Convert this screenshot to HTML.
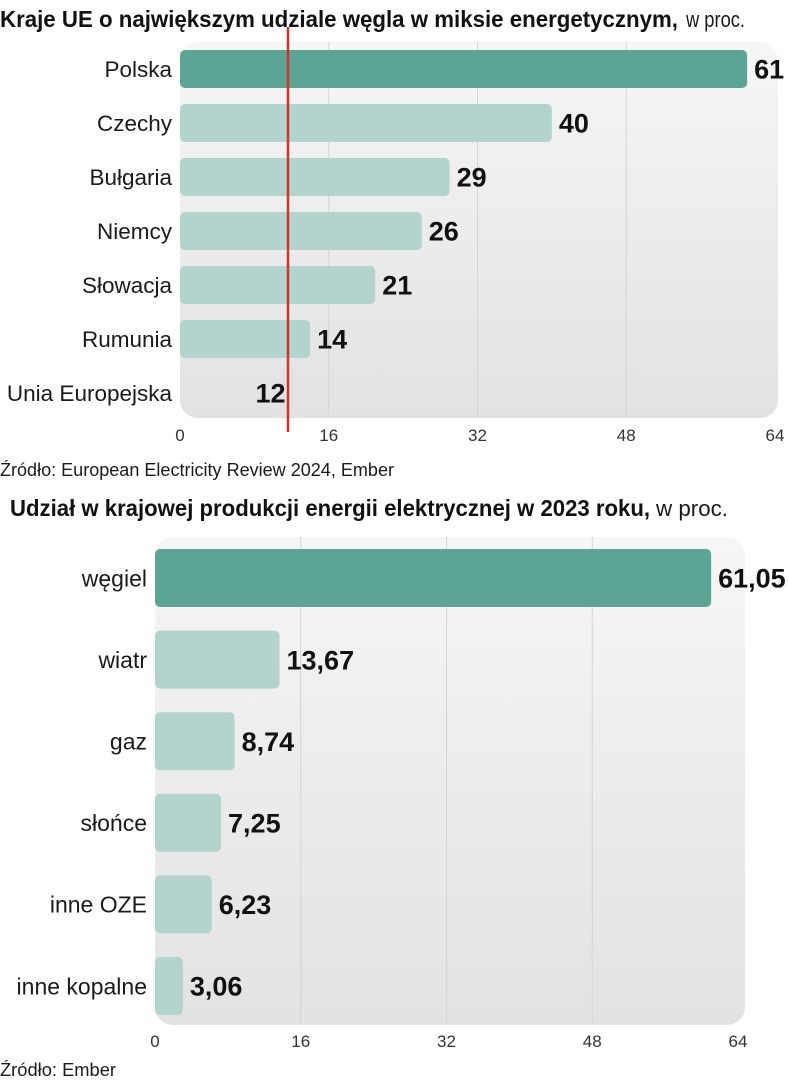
<!DOCTYPE html>
<html><head><meta charset="utf-8">
<style>
body{margin:0;background:#fff;width:789px;height:1080px;overflow:hidden}
svg{display:block}
.t{font-family:"Liberation Sans Narrow","Liberation Sans",sans-serif;font-weight:bold;fill:#111}
.l{font-family:"Liberation Sans",sans-serif;fill:#1a1a1a}
.v{font-family:"Liberation Sans Narrow","Liberation Sans",sans-serif;font-weight:bold;fill:#111}
.a{font-family:"Liberation Sans",sans-serif;fill:#333;font-size:17px}
</style></head>
<body>
<svg id="c" width="789" height="1080">
<defs>
<linearGradient id="g" x1="0" y1="0" x2="0" y2="1"><stop offset="0" stop-color="#f6f6f6"/><stop offset="1" stop-color="#e2e2e2"/></linearGradient>
</defs>
<text x="0" y="27" font-size="23" class="t" textLength="678" lengthAdjust="spacingAndGlyphs">Kraje UE o największym udziale węgla w miksie energetycznym,</text>
<text x="686" y="27" font-size="22" class="l" fill="#333" textLength="59" lengthAdjust="spacingAndGlyphs">w proc.</text>
<text x="0" y="476" font-size="18" class="l" textLength="394" lengthAdjust="spacingAndGlyphs">Źródło: European Electricity Review 2024, Ember</text>
<text x="10" y="516" font-size="23" class="t" textLength="640" lengthAdjust="spacingAndGlyphs">Udział w krajowej produkcji energii elektrycznej w 2023 roku,</text>
<text x="656" y="516" font-size="22" class="l" textLength="72" lengthAdjust="spacingAndGlyphs">w proc.</text>
<text x="0" y="1076" font-size="18" class="l" textLength="116" lengthAdjust="spacingAndGlyphs">Źródło: Ember</text>
</svg>
<script>
const topCats=["Polska","Czechy","Bułgaria","Niemcy","Słowacja","Rumunia","Unia Europejska"];
const topVals=[61,40,29,26,21,14,12];
const topLabels=["61","40","29","26","21","14","12"];
const botCats=["węgiel","wiatr","gaz","słońce","inne OZE","inne kopalne"];
const botVals=[61.05,13.67,8.74,7.25,6.23,3.06];
const botLabels=["61,05","13,67","8,74","7,25","6,23","3,06"];
const ticks=[0,16,32,48,64];
const NS="http://www.w3.org/2000/svg";
const svg=document.getElementById('c');
function mk(t,a,txt){const e=document.createElementNS(NS,t);for(const k in a)e.setAttribute(k,a[k]);if(txt!=null)e.textContent=txt;svg.appendChild(e);return e;}
function chart(o){
  const x=v=>o.x0+v*(o.x64-o.x0)/64;
  const bg=mk('rect',{x:o.x0,y:o.bgY,width:o.bgR-o.x0,height:o.bgB-o.bgY,rx:18,fill:'url(#g)'});
  
  
  ticks.forEach(t=>{
    if(t>0&&t<64){const g=mk('line',{x1:x(t),x2:x(t),y1:o.bgY,y2:o.bgB,stroke:'#d4d4d4','stroke-width':1});
    
    }
    const tl=mk('text',{x:x(t),y:o.tickY,'text-anchor':'middle',class:'a'},String(t));
    
    
  });
  o.cats.forEach((c,i)=>{
    const cy=o.cy0+i*o.step;
    const lb=mk('text',{x:o.x0-8,y:cy+o.fs*0.36,'text-anchor':'end',class:'l','font-size':o.fs},c);
    
    
    const v=o.vals[i];
    const nb=o.noBar&&o.noBar(i);
    if(!nb){
      const b=mk('rect',{x:o.x0,y:cy-o.bh/2,width:x(v)-o.x0,height:o.bh,rx:5,fill:i==0?'#5ca595':'#b2d4cc'});
      
      
    }
    const vl=mk('text',{x:x(v)+(nb?-6:7),y:cy+o.vfs*0.36,'text-anchor':nb?'end':'start',class:'v','font-size':o.vfs},o.labels[i]);
    
    
  });
}
chart({p:'top',cats:topCats,vals:topVals,labels:topLabels,x0:180,x64:775,bgY:42,bgR:778,bgB:418,tickY:441,cy0:69,step:54,bh:38,fs:22.5,vfs:27,noBar:i=>i==6});
chart({p:'bottom',cats:botCats,vals:botVals,labels:botLabels,x0:155,x64:738,bgY:537,bgR:745,bgB:1025,tickY:1047,cy0:578,step:81.6,bh:58,fs:23,vfs:27});
const rl=mk('line',{x1:288,x2:288,y1:27,y2:432,stroke:'#d0332b','stroke-width':2.5});


</script>
</body></html>
